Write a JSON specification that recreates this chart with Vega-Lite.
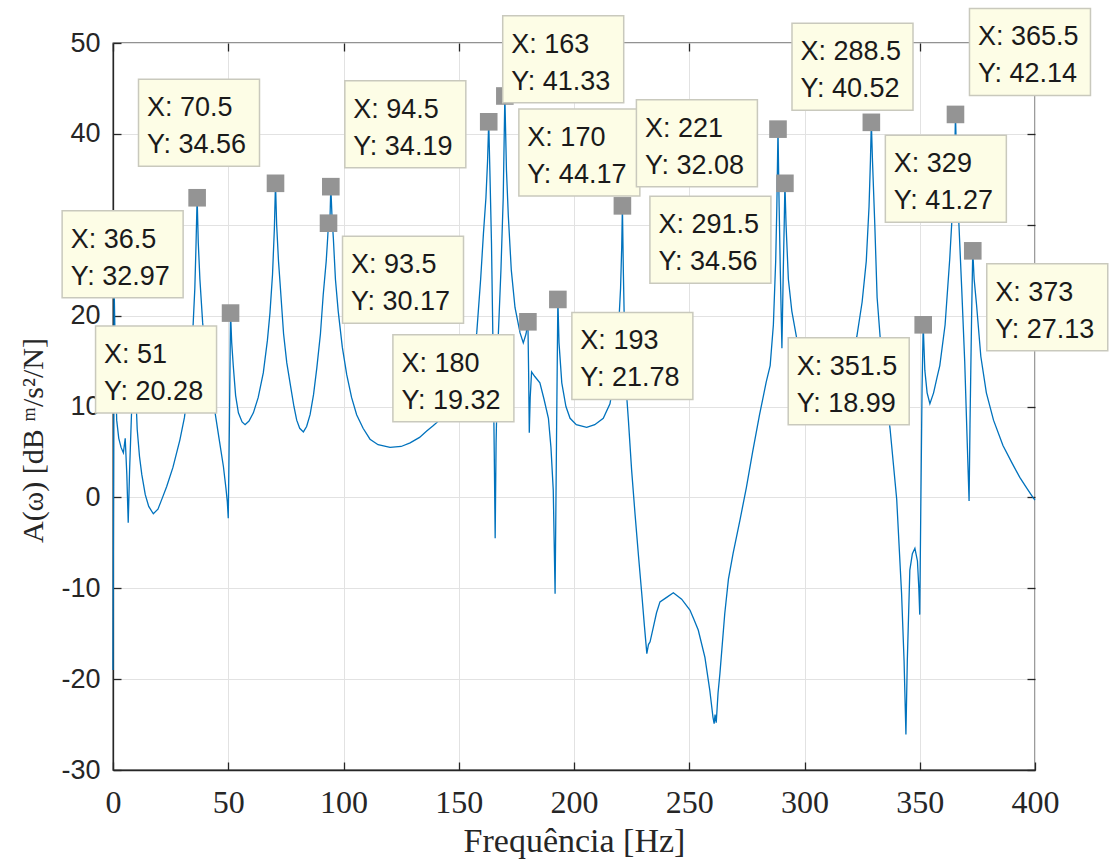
{
  "$schema": "https://vega.github.io/schema/vega-lite/v6.json",
  "width": 922,
  "height": 727,
  "autosize": "none",
  "padding": {"left": 113, "top": 43, "right": 75, "bottom": 94},
  "background": "white",
  "config": {"view": {"stroke": "#262626", "strokeWidth": 1.3}},
  "datasets": {
    "frf": [
      {"hz": 0, "db": -19}, {"hz": 0.5, "db": 23}, {"hz": 1, "db": 16}, {"hz": 1.6, "db": 8.5}, {"hz": 2.5, "db": 6.5},
      {"hz": 3.5, "db": 5.5}, {"hz": 4.5, "db": 4.9}, {"hz": 5.3, "db": 6.5}, {"hz": 6, "db": 2.5}, {"hz": 6.6, "db": -2.8},
      {"hz": 7.2, "db": 3}, {"hz": 8, "db": 9}, {"hz": 8.8, "db": 13.5}, {"hz": 9.3, "db": 14.5}, {"hz": 9.8, "db": 12},
      {"hz": 10.5, "db": 7.5}, {"hz": 11.5, "db": 4.5}, {"hz": 12.5, "db": 2.5}, {"hz": 14, "db": 0.3}, {"hz": 15.5, "db": -1},
      {"hz": 17.5, "db": -1.8}, {"hz": 19.5, "db": -1.3}, {"hz": 21.5, "db": 0}, {"hz": 23.3, "db": 1.2}, {"hz": 26, "db": 3.3},
      {"hz": 29, "db": 6.3}, {"hz": 31, "db": 8.8}, {"hz": 32.7, "db": 12.2}, {"hz": 34, "db": 15.5}, {"hz": 34.8, "db": 19.2},
      {"hz": 35.5, "db": 23}, {"hz": 36, "db": 27.6}, {"hz": 36.5, "db": 32.97}, {"hz": 37, "db": 28}, {"hz": 37.7, "db": 24},
      {"hz": 38.9, "db": 19.2}, {"hz": 40.5, "db": 15}, {"hz": 42.5, "db": 12}, {"hz": 44.3, "db": 9.3}, {"hz": 46, "db": 6.5},
      {"hz": 47.9, "db": 3.4}, {"hz": 49, "db": 1}, {"hz": 49.6, "db": -0.5}, {"hz": 50, "db": -2.3}, {"hz": 50.5, "db": 8},
      {"hz": 51, "db": 20.28}, {"hz": 51.5, "db": 17}, {"hz": 52.2, "db": 14.4}, {"hz": 53.2, "db": 11.2}, {"hz": 54.4, "db": 9.3},
      {"hz": 56, "db": 8.3}, {"hz": 57.3, "db": 8}, {"hz": 59, "db": 8.4}, {"hz": 60.9, "db": 9.3}, {"hz": 63, "db": 11},
      {"hz": 65.2, "db": 13.7}, {"hz": 67, "db": 17.3}, {"hz": 68.1, "db": 20.3}, {"hz": 69.2, "db": 24.5}, {"hz": 70, "db": 29.5},
      {"hz": 70.5, "db": 34.56}, {"hz": 71, "db": 30}, {"hz": 71.8, "db": 26}, {"hz": 72.5, "db": 23.5}, {"hz": 74, "db": 18},
      {"hz": 75.4, "db": 14.8}, {"hz": 77, "db": 12.3}, {"hz": 78.5, "db": 10}, {"hz": 79.7, "db": 8.5}, {"hz": 81, "db": 7.6},
      {"hz": 82.6, "db": 7.2}, {"hz": 84, "db": 7.8}, {"hz": 85.5, "db": 9.1}, {"hz": 87, "db": 11.3}, {"hz": 88.4, "db": 14.2},
      {"hz": 90, "db": 18}, {"hz": 91.2, "db": 22.3}, {"hz": 92.5, "db": 26}, {"hz": 93, "db": 28}, {"hz": 93.5, "db": 30.17},
      {"hz": 94, "db": 29.3}, {"hz": 94.5, "db": 34.19}, {"hz": 95, "db": 31}, {"hz": 95.6, "db": 28.5}, {"hz": 96.5, "db": 24},
      {"hz": 97.7, "db": 20.5}, {"hz": 99.5, "db": 16.5}, {"hz": 101.4, "db": 13.5}, {"hz": 103.5, "db": 11}, {"hz": 105.7, "db": 9.1},
      {"hz": 108.5, "db": 7.6}, {"hz": 111.5, "db": 6.4}, {"hz": 115, "db": 5.8}, {"hz": 120.2, "db": 5.5}, {"hz": 125, "db": 5.6},
      {"hz": 128.9, "db": 6}, {"hz": 133, "db": 6.6}, {"hz": 136.1, "db": 7.3}, {"hz": 139, "db": 7.9}, {"hz": 143, "db": 8.8},
      {"hz": 147, "db": 10}, {"hz": 151, "db": 11.5}, {"hz": 154, "db": 13.3}, {"hz": 156.5, "db": 16}, {"hz": 157.8, "db": 18.1},
      {"hz": 159.5, "db": 24}, {"hz": 160.7, "db": 29}, {"hz": 161.8, "db": 33}, {"hz": 162.5, "db": 37}, {"hz": 163, "db": 41.33},
      {"hz": 163.5, "db": 36}, {"hz": 164.2, "db": 28}, {"hz": 164.9, "db": 16}, {"hz": 165.4, "db": 5}, {"hz": 165.8, "db": -4.5},
      {"hz": 166.2, "db": 6}, {"hz": 167.2, "db": 18.1}, {"hz": 168.3, "db": 25}, {"hz": 169.3, "db": 33}, {"hz": 170, "db": 44.17},
      {"hz": 170.7, "db": 36}, {"hz": 171.5, "db": 31}, {"hz": 172.8, "db": 25}, {"hz": 174.4, "db": 20.9}, {"hz": 176.6, "db": 18.1},
      {"hz": 178, "db": 17}, {"hz": 179.2, "db": 18}, {"hz": 180, "db": 19.32}, {"hz": 180.3, "db": 14}, {"hz": 180.6, "db": 7.1},
      {"hz": 181, "db": 11}, {"hz": 181.6, "db": 13.8}, {"hz": 183, "db": 13.3}, {"hz": 185.2, "db": 12.6}, {"hz": 187, "db": 10.8},
      {"hz": 188.9, "db": 8.7}, {"hz": 190, "db": 5.5}, {"hz": 191, "db": 0.8}, {"hz": 191.8, "db": -10.6}, {"hz": 192.4, "db": 6},
      {"hz": 193, "db": 21.78}, {"hz": 193.5, "db": 17}, {"hz": 194.7, "db": 12.6}, {"hz": 196.5, "db": 10}, {"hz": 198.3, "db": 8.7},
      {"hz": 201, "db": 8}, {"hz": 205.5, "db": 7.7}, {"hz": 209, "db": 8}, {"hz": 212.7, "db": 8.7}, {"hz": 215.6, "db": 10.3},
      {"hz": 217.5, "db": 13}, {"hz": 219, "db": 17}, {"hz": 220.2, "db": 23}, {"hz": 220.7, "db": 27.5}, {"hz": 221, "db": 32.08},
      {"hz": 221.4, "db": 25}, {"hz": 222, "db": 17}, {"hz": 222.9, "db": 11}, {"hz": 223.6, "db": 8.5}, {"hz": 225, "db": 3},
      {"hz": 226.5, "db": -1.9}, {"hz": 228, "db": -6.5}, {"hz": 229.4, "db": -10.6}, {"hz": 230.5, "db": -14}, {"hz": 231.6, "db": -17.2},
      {"hz": 232.3, "db": -16.2}, {"hz": 233, "db": -15.9}, {"hz": 234.4, "db": -14.3}, {"hz": 235.8, "db": -12.7}, {"hz": 237.3, "db": -11.5},
      {"hz": 240.2, "db": -11}, {"hz": 243.1, "db": -10.5}, {"hz": 246.7, "db": -11.2}, {"hz": 250.3, "db": -12.4}, {"hz": 252, "db": -13.4},
      {"hz": 253.9, "db": -14.6}, {"hz": 256.8, "db": -17.6}, {"hz": 258.9, "db": -21.2}, {"hz": 260.3, "db": -24.2}, {"hz": 260.8, "db": -24.9},
      {"hz": 261.2, "db": -23.9}, {"hz": 261.7, "db": -24.8}, {"hz": 262.5, "db": -21.5}, {"hz": 263.3, "db": -19.4}, {"hz": 265.4, "db": -12.8},
      {"hz": 267, "db": -9}, {"hz": 269, "db": -6.2}, {"hz": 272, "db": -2.5}, {"hz": 274.8, "db": 1.1}, {"hz": 277.5, "db": 5},
      {"hz": 280.5, "db": 9.1}, {"hz": 283.4, "db": 12.7}, {"hz": 285.1, "db": 14.5}, {"hz": 286.5, "db": 19}, {"hz": 287.5, "db": 26},
      {"hz": 288, "db": 32}, {"hz": 288.5, "db": 40.52}, {"hz": 289, "db": 32}, {"hz": 289.5, "db": 25}, {"hz": 290.2, "db": 16.4},
      {"hz": 290.8, "db": 25}, {"hz": 291.2, "db": 30}, {"hz": 291.5, "db": 34.56}, {"hz": 292, "db": 30}, {"hz": 293, "db": 24},
      {"hz": 294.5, "db": 20.5}, {"hz": 296.7, "db": 17.4}, {"hz": 299, "db": 15}, {"hz": 302, "db": 13}, {"hz": 306, "db": 11.5},
      {"hz": 310, "db": 11}, {"hz": 314, "db": 11.5}, {"hz": 318, "db": 13.5}, {"hz": 321, "db": 16}, {"hz": 322.7, "db": 17.7},
      {"hz": 325, "db": 21.5}, {"hz": 326.8, "db": 26}, {"hz": 328, "db": 32}, {"hz": 328.6, "db": 37}, {"hz": 329, "db": 41.27},
      {"hz": 329.5, "db": 37}, {"hz": 330.5, "db": 30}, {"hz": 331.5, "db": 22}, {"hz": 332.8, "db": 17.7}, {"hz": 335, "db": 12},
      {"hz": 337.1, "db": 7.6}, {"hz": 340, "db": -0.2}, {"hz": 342.1, "db": -10.5}, {"hz": 343.2, "db": -18}, {"hz": 344, "db": -26.1},
      {"hz": 344.6, "db": -18}, {"hz": 345.7, "db": -8}, {"hz": 346.8, "db": -6.2}, {"hz": 347.9, "db": -5.6}, {"hz": 349, "db": -7},
      {"hz": 349.6, "db": -10}, {"hz": 350, "db": -12.9}, {"hz": 350.5, "db": 0}, {"hz": 351, "db": 12}, {"hz": 351.5, "db": 18.99},
      {"hz": 352.2, "db": 14}, {"hz": 353.2, "db": 11.5}, {"hz": 354.4, "db": 10.3}, {"hz": 356, "db": 11.5}, {"hz": 357.5, "db": 13.2},
      {"hz": 358.7, "db": 14.5}, {"hz": 361, "db": 19}, {"hz": 363, "db": 26.2}, {"hz": 364.5, "db": 33}, {"hz": 365.2, "db": 38},
      {"hz": 365.5, "db": 42.14}, {"hz": 366, "db": 37}, {"hz": 367, "db": 30}, {"hz": 368.2, "db": 23}, {"hz": 369.5, "db": 15},
      {"hz": 370.6, "db": 6}, {"hz": 371.4, "db": -0.4}, {"hz": 371.8, "db": 8}, {"hz": 372.5, "db": 20}, {"hz": 373, "db": 27.13},
      {"hz": 373.6, "db": 24}, {"hz": 374.6, "db": 21.3}, {"hz": 376.5, "db": 15.5}, {"hz": 378.9, "db": 11.5}, {"hz": 382, "db": 8.5},
      {"hz": 386.1, "db": 5.7}, {"hz": 390, "db": 3.8}, {"hz": 393.4, "db": 2.2}, {"hz": 396.5, "db": 1}, {"hz": 399.1, "db": 0},
      {"hz": 400, "db": -0.3}
    ],
    "tips": [
      {"hz": 36.5, "db": 32.97, "pos": "dl"},
      {"hz": 51, "db": 20.28, "pos": "dl"},
      {"hz": 70.5, "db": 34.56, "pos": "ul"},
      {"hz": 94.5, "db": 34.19, "pos": "ur"},
      {"hz": 93.5, "db": 30.17, "pos": "dr"},
      {"hz": 163, "db": 41.33, "pos": "ur"},
      {"hz": 170, "db": 44.17, "pos": "dr"},
      {"hz": 180, "db": 19.32, "pos": "dl"},
      {"hz": 193, "db": 21.78, "pos": "dr"},
      {"hz": 221, "db": 32.08, "pos": "ur"},
      {"hz": 288.5, "db": 40.52, "pos": "ur"},
      {"hz": 291.5, "db": 34.56, "pos": "dl"},
      {"hz": 329, "db": 41.27, "pos": "dr"},
      {"hz": 351.5, "db": 18.99, "pos": "dl"},
      {"hz": 365.5, "db": 42.14, "pos": "ur"},
      {"hz": 373, "db": 27.13, "pos": "dr"}
    ]
  },
  "resolve": {"axis": {"x": "independent", "y": "independent"}},
  "layer": [
    {
      "data": {"name": "frf"},
      "mark": {"type": "line", "color": "#0072BD", "strokeWidth": 1.3},
      "encoding": {
        "x": {
          "field": "hz", "type": "quantitative",
          "scale": {"domain": [0, 400], "nice": false, "zero": false},
          "axis": {
            "orient": "bottom", "values": [0, 50, 100, 150, 200, 250, 300, 350, 400],
            "grid": true, "gridColor": "#e2e2e2", "gridWidth": 1,
            "domainColor": "#262626", "domainWidth": 1.3,
            "tickColor": "#262626", "tickSize": -8, "tickWidth": 1.3,
            "labelFont": "Liberation Sans Narrow", "labelFontSize": 32, "labelColor": "#262626",
            "labelPadding": 25, "labelFlush": false, "labelOverlap": false,
            "title": "Frequência [Hz]", "titleFont": "Liberation Serif", "titleFontSize": 34,
            "titleFontWeight": "normal", "titleColor": "#262626", "titleBaseline": "alphabetic", "titleY": 81
          }
        },
        "y": {
          "field": "db", "type": "quantitative",
          "scale": {"domain": [-30, 50], "nice": false, "zero": false},
          "axis": {
            "orient": "left", "values": [-30, -20, -10, 0, 10, 20, 30, 40, 50],
            "grid": true, "gridColor": "#e2e2e2", "gridWidth": 1,
            "domainColor": "#262626", "domainWidth": 1.3,
            "tickColor": "#262626", "tickSize": -8, "tickWidth": 1.3,
            "labelFont": "Liberation Sans", "labelFontSize": 27, "labelColor": "#262626",
            "labelPadding": 21, "labelFlush": false, "labelOverlap": false,
            "labelExpr": "'' + datum.value",
            "title": "A(ω) [dB ᵐ/s²/N]", "titleFont": "Liberation Serif", "titleFontSize": 30,
            "titleFontWeight": "normal", "titleColor": "#262626", "titleAngle": -90,
            "titleBaseline": "middle", "titleX": -80, "titleY": 397
          }
        }
      }
    },
    {
      "data": {"name": "tips"},
      "mark": {"type": "point", "shape": "square", "filled": true, "size": 310, "color": "#949494", "opacity": 1},
      "encoding": {
        "x": {
          "field": "hz", "type": "quantitative",
          "axis": {
            "orient": "top", "values": [0, 50, 100, 150, 200, 250, 300, 350, 400],
            "grid": false, "labels": false, "domain": false, "title": null,
            "tickColor": "#262626", "tickSize": -8, "tickWidth": 1.3
          }
        },
        "y": {
          "field": "db", "type": "quantitative",
          "axis": {
            "orient": "right", "values": [-30, -20, -10, 0, 10, 20, 30, 40, 50],
            "grid": false, "labels": false, "domain": false, "title": null,
            "tickColor": "#262626", "tickSize": -8, "tickWidth": 1.3
          }
        }
      }
    },
    {
      "data": {"name": "tips"},
      "mark": {"type": "point", "filled": true, "size": 40000, "fill": "#fdfde6", "stroke": "#c9c9bd", "strokeWidth": 1.5, "opacity": 1},
      "encoding": {
        "x": {"field": "hz", "type": "quantitative", "axis": null},
        "y": {"field": "db", "type": "quantitative", "axis": null},
        "shape": {
          "field": "pos", "type": "nominal", "legend": null,
          "scale": {
            "domain": ["dr", "dl", "ur", "ul"],
            "range": [
              "M0.14,0.13L1.35,0.13L1.35,1.0L0.14,1.0Z",
              "M-1.35,0.13L-0.14,0.13L-0.14,1.0L-1.35,1.0Z",
              "M0.14,-1.06L1.35,-1.06L1.35,-0.19L0.14,-0.19Z",
              "M-1.37,-1.04L-0.16,-1.04L-0.16,-0.17L-1.37,-0.17Z"
            ]
          }
        }
      }
    },
    {
      "data": {"name": "tips"},
      "transform": [
        {"filter": "datum.pos === 'dr'"},
        {"calculate": "'X: ' + datum.hz + '\\nY: ' + format(datum.db, '.2f')", "as": "tip"}
      ],
      "mark": {"type": "text", "align": "left", "baseline": "top", "dx": 22.5, "dy": 29, "lineBreak": "\n", "lineHeight": 37, "font": "Liberation Sans", "fontSize": 27, "color": "#1a1a1a"},
      "encoding": {
        "x": {"field": "hz", "type": "quantitative", "axis": null},
        "y": {"field": "db", "type": "quantitative", "axis": null},
        "text": {"field": "tip"}
      }
    },
    {
      "data": {"name": "tips"},
      "transform": [
        {"filter": "datum.pos === 'dl'"},
        {"calculate": "'X: ' + datum.hz + '\\nY: ' + format(datum.db, '.2f')", "as": "tip"}
      ],
      "mark": {"type": "text", "align": "left", "baseline": "top", "dx": -126.5, "dy": 29, "lineBreak": "\n", "lineHeight": 37, "font": "Liberation Sans", "fontSize": 27, "color": "#1a1a1a"},
      "encoding": {
        "x": {"field": "hz", "type": "quantitative", "axis": null},
        "y": {"field": "db", "type": "quantitative", "axis": null},
        "text": {"field": "tip"}
      }
    },
    {
      "data": {"name": "tips"},
      "transform": [
        {"filter": "datum.pos === 'ur'"},
        {"calculate": "'X: ' + datum.hz + '\\nY: ' + format(datum.db, '.2f')", "as": "tip"}
      ],
      "mark": {"type": "text", "align": "left", "baseline": "top", "dx": 22.5, "dy": -90, "lineBreak": "\n", "lineHeight": 37, "font": "Liberation Sans", "fontSize": 27, "color": "#1a1a1a"},
      "encoding": {
        "x": {"field": "hz", "type": "quantitative", "axis": null},
        "y": {"field": "db", "type": "quantitative", "axis": null},
        "text": {"field": "tip"}
      }
    },
    {
      "data": {"name": "tips"},
      "transform": [
        {"filter": "datum.pos === 'ul'"},
        {"calculate": "'X: ' + datum.hz + '\\nY: ' + format(datum.db, '.2f')", "as": "tip"}
      ],
      "mark": {"type": "text", "align": "left", "baseline": "top", "dx": -128.5, "dy": -88, "lineBreak": "\n", "lineHeight": 37, "font": "Liberation Sans", "fontSize": 27, "color": "#1a1a1a"},
      "encoding": {
        "x": {"field": "hz", "type": "quantitative", "axis": null},
        "y": {"field": "db", "type": "quantitative", "axis": null},
        "text": {"field": "tip"}
      }
    }
  ]
}
